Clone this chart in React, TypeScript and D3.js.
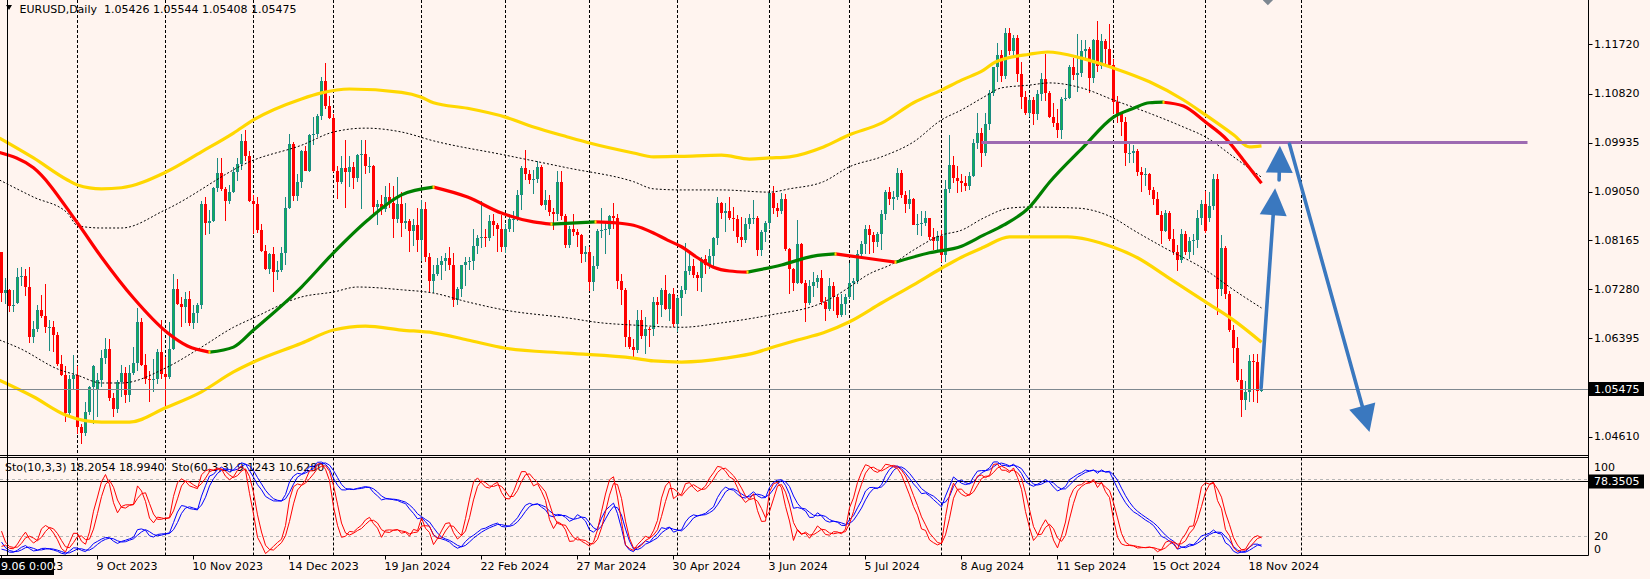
import React from "react";
import * as d3 from "d3";

type Row = [number, number, number, number, number];

// ---- daily candles: [day, open, high, low, close] ----
const sep2023: Row[] = [
  [5,1.0795,1.0796,1.0705,1.0721],[6,1.0721,1.0748,1.0702,1.0726],[7,1.0726,1.0729,1.0686,1.0698],[8,1.0698,1.0726,1.0686,1.0700],
  [11,1.0703,1.0767,1.0701,1.0750],[12,1.0750,1.0769,1.0733,1.0752],[13,1.0752,1.0765,1.0715,1.0732],[14,1.0732,1.0768,1.0631,1.0641],[15,1.0641,1.0671,1.0631,1.0656],
  [18,1.0656,1.0699,1.0651,1.0690],[19,1.0690,1.0718,1.0675,1.0680],[20,1.0680,1.0737,1.0648,1.0660],[21,1.0660,1.0673,1.0616,1.0660],[22,1.0660,1.0670,1.0615,1.0645],
  [25,1.0645,1.0650,1.0589,1.0593],[26,1.0593,1.0608,1.0571,1.0573],[27,1.0573,1.0589,1.0488,1.0503],[28,1.0503,1.0573,1.0496,1.0566],[29,1.0566,1.0609,1.0548,1.0573],
];
const oct2023: Row[] = [
  [2,1.0573,1.0588,1.0466,1.0478],[3,1.0478,1.0484,1.0448,1.0468],[4,1.0468,1.0524,1.0462,1.0505],[5,1.0505,1.0553,1.0500,1.0550],[6,1.0550,1.0590,1.0483,1.0588],
  [9,1.0545,1.0577,1.0496,1.0563],[10,1.0563,1.0618,1.0550,1.0604],[11,1.0604,1.0640,1.0593,1.0620],[12,1.0620,1.0638,1.0525,1.0531],[13,1.0531,1.0540,1.0496,1.0510],
  [16,1.0510,1.0564,1.0503,1.0559],[17,1.0559,1.0590,1.0533,1.0576],[18,1.0576,1.0587,1.0521,1.0536],[19,1.0536,1.0590,1.0523,1.0576],[20,1.0576,1.0623,1.0572,1.0594],
  [23,1.0594,1.0694,1.0579,1.0668],[24,1.0668,1.0675,1.0588,1.0590],[25,1.0590,1.0610,1.0556,1.0565],[26,1.0565,1.0579,1.0524,1.0564],[27,1.0564,1.0601,1.0541,1.0565],
  [30,1.0565,1.0620,1.0557,1.0615],[31,1.0615,1.0673,1.0565,1.0575],
];
const nov2023: Row[] = [
  [1,1.0575,1.0605,1.0517,1.0568],[2,1.0568,1.0669,1.0566,1.0620],[3,1.0620,1.0756,1.0618,1.0729],
  [6,1.0729,1.0747,1.0700,1.0701],[7,1.0701,1.0714,1.0659,1.0696],[8,1.0696,1.0723,1.0667,1.0710],[9,1.0710,1.0724,1.0661,1.0667],[10,1.0667,1.0700,1.0656,1.0685],
  [13,1.0685,1.0703,1.0666,1.0700],[14,1.0700,1.0888,1.0693,1.0883],[15,1.0883,1.0895,1.0827,1.0848],[16,1.0848,1.0872,1.0828,1.0852],[17,1.0852,1.0914,1.0849,1.0911],
  [20,1.0911,1.0965,1.0904,1.0939],[21,1.0939,1.0965,1.0906,1.0910],[22,1.0910,1.0913,1.0852,1.0888],[23,1.0888,1.0917,1.0882,1.0905],[24,1.0905,1.0949,1.0903,1.0940],
  [27,1.0940,1.0965,1.0925,1.0955],[28,1.0955,1.1009,1.0945,1.0996],[29,1.0996,1.1017,1.0961,1.0970],[30,1.0970,1.0978,1.0886,1.0888],
];
const dec2023: Row[] = [
  [1,1.0888,1.0898,1.0828,1.0883],
  [4,1.0883,1.0895,1.0830,1.0836],[5,1.0836,1.0847,1.0796,1.0797],[6,1.0797,1.0808,1.0763,1.0764],[7,1.0764,1.0794,1.0756,1.0792],[8,1.0792,1.0805,1.0723,1.0760],
  [11,1.0760,1.0779,1.0744,1.0762],[12,1.0762,1.0805,1.0760,1.0793],[13,1.0793,1.0895,1.0772,1.0875],[14,1.0875,1.1009,1.0874,1.0991],[15,1.0991,1.0995,1.0888,1.0897],
  [18,1.0897,1.0937,1.0888,1.0923],[19,1.0923,1.0980,1.0912,1.0979],[20,1.0979,1.0988,1.0942,1.0943],[21,1.0943,1.1010,1.0941,1.1008],[22,1.1008,1.1040,1.0990,1.1009],
  [26,1.1009,1.1045,1.1004,1.1042],[27,1.1042,1.1112,1.1034,1.1106],[28,1.1106,1.1139,1.1055,1.1061],[29,1.1061,1.1078,1.1037,1.1038],
];
const jan2024: Row[] = [
  [2,1.1038,1.1046,1.0940,1.0942],[3,1.0942,1.0951,1.0892,1.0922],[4,1.0922,1.0970,1.0918,1.0947],[5,1.0947,1.0998,1.0876,1.0940],
  [8,1.0940,1.0969,1.0914,1.0949],[9,1.0949,1.0958,1.0910,1.0930],[10,1.0930,1.0973,1.0922,1.0971],[11,1.0971,1.0998,1.0874,1.0973],[12,1.0973,1.0999,1.0936,1.0951],
  [15,1.0951,1.0967,1.0939,1.0952],[16,1.0952,1.0954,1.0863,1.0877],[17,1.0877,1.0890,1.0844,1.0883],[18,1.0883,1.0899,1.0862,1.0874],[19,1.0874,1.0915,1.0868,1.0896],
  [22,1.0896,1.0920,1.0876,1.0885],[23,1.0885,1.0915,1.0821,1.0855],[24,1.0855,1.0932,1.0848,1.0883],[25,1.0883,1.0904,1.0822,1.0848],[26,1.0848,1.0885,1.0838,1.0852],
  [29,1.0852,1.0856,1.0795,1.0833],[30,1.0833,1.0855,1.0807,1.0845],[31,1.0845,1.0876,1.0795,1.0818],
];
const feb2024: Row[] = [
  [1,1.0818,1.0889,1.0780,1.0873],[2,1.0873,1.0886,1.0777,1.0786],
  [5,1.0786,1.0793,1.0723,1.0743],[6,1.0743,1.0771,1.0722,1.0756],[7,1.0756,1.0785,1.0752,1.0772],[8,1.0772,1.0788,1.0745,1.0780],[9,1.0780,1.0794,1.0761,1.0785],
  [12,1.0785,1.0805,1.0762,1.0771],[13,1.0771,1.0793,1.0696,1.0708],[14,1.0708,1.0732,1.0700,1.0728],[15,1.0728,1.0772,1.0714,1.0771],[16,1.0771,1.0786,1.0733,1.0778],
  [19,1.0778,1.0787,1.0762,1.0779],[20,1.0779,1.0838,1.0762,1.0807],[21,1.0807,1.0827,1.0791,1.0821],[22,1.0821,1.0888,1.0802,1.0822],[23,1.0822,1.0838,1.0805,1.0821],
  [26,1.0821,1.0862,1.0815,1.0851],[27,1.0851,1.0865,1.0824,1.0845],[28,1.0845,1.0848,1.0796,1.0838],[29,1.0838,1.0862,1.0796,1.0804],
];
const mar2024: Row[] = [
  [1,1.0804,1.0846,1.0794,1.0838],
  [4,1.0838,1.0864,1.0831,1.0855],[5,1.0855,1.0870,1.0832,1.0855],[6,1.0855,1.0908,1.0852,1.0899],[7,1.0899,1.0951,1.0872,1.0948],[8,1.0948,1.0981,1.0926,1.0937],
  [11,1.0937,1.0945,1.0918,1.0926],[12,1.0926,1.0945,1.0900,1.0927],[13,1.0927,1.0960,1.0920,1.0950],[14,1.0950,1.0953,1.0879,1.0881],[15,1.0881,1.0907,1.0872,1.0889],
  [18,1.0889,1.0898,1.0861,1.0868],[19,1.0868,1.0875,1.0835,1.0865],[20,1.0865,1.0942,1.0851,1.0923],[21,1.0923,1.0942,1.0854,1.0860],[22,1.0860,1.0865,1.0802,1.0808],
  [25,1.0808,1.0843,1.0803,1.0837],[26,1.0837,1.0865,1.0825,1.0831],[27,1.0831,1.0838,1.0805,1.0826],[28,1.0826,1.0829,1.0776,1.0792],[29,1.0792,1.0807,1.0777,1.0795],
];
const apr2024: Row[] = [
  [1,1.0795,1.0804,1.0724,1.0741],[2,1.0741,1.0788,1.0725,1.0770],[3,1.0770,1.0837,1.0764,1.0834],[4,1.0834,1.0876,1.0820,1.0836],[5,1.0836,1.0849,1.0791,1.0837],
  [8,1.0837,1.0862,1.0826,1.0860],[9,1.0860,1.0885,1.0838,1.0858],[10,1.0858,1.0865,1.0728,1.0743],[11,1.0743,1.0755,1.0700,1.0726],[12,1.0726,1.0731,1.0623,1.0642],
  [15,1.0642,1.0672,1.0620,1.0624],[16,1.0624,1.0638,1.0601,1.0617],[17,1.0617,1.0690,1.0612,1.0672],[18,1.0672,1.0690,1.0637,1.0644],[19,1.0644,1.0678,1.0610,1.0656],
  [22,1.0656,1.0660,1.0624,1.0655],[23,1.0655,1.0713,1.0644,1.0704],[24,1.0704,1.0714,1.0665,1.0700],[25,1.0700,1.0731,1.0678,1.0727],[26,1.0727,1.0753,1.0691,1.0693],
  [29,1.0693,1.0722,1.0671,1.0719],[30,1.0719,1.0730,1.0660,1.0665],
];
const may2024: Row[] = [
  [1,1.0665,1.0715,1.0650,1.0712],[2,1.0712,1.0733,1.0680,1.0727],[3,1.0727,1.0812,1.0719,1.0761],
  [6,1.0761,1.0791,1.0754,1.0770],[7,1.0770,1.0782,1.0749,1.0754],[8,1.0754,1.0760,1.0724,1.0749],[9,1.0749,1.0786,1.0723,1.0783],[10,1.0783,1.0790,1.0755,1.0771],
  [13,1.0771,1.0801,1.0764,1.0789],[14,1.0789,1.0823,1.0770,1.0820],[15,1.0820,1.0895,1.0808,1.0884],[16,1.0884,1.0887,1.0855,1.0866],[17,1.0866,1.0884,1.0832,1.0869],
  [20,1.0869,1.0895,1.0854,1.0857],[21,1.0857,1.0877,1.0834,1.0855],[22,1.0855,1.0862,1.0812,1.0822],[23,1.0822,1.0859,1.0805,1.0818],[24,1.0818,1.0858,1.0812,1.0847],
  [27,1.0847,1.0864,1.0837,1.0857],[28,1.0857,1.0889,1.0847,1.0858],[29,1.0858,1.0861,1.0789,1.0799],[30,1.0799,1.0835,1.0788,1.0832],[31,1.0832,1.0852,1.0813,1.0848],
];
const jun2024: Row[] = [
  [3,1.0848,1.0902,1.0837,1.0902],[4,1.0902,1.0916,1.0864,1.0876],[5,1.0876,1.0885,1.0859,1.0869],[6,1.0869,1.0902,1.0864,1.0891],[7,1.0891,1.0901,1.0798,1.0801],
  [10,1.0801,1.0803,1.0719,1.0765],[11,1.0765,1.0766,1.0724,1.0740],[12,1.0740,1.0853,1.0737,1.0810],[13,1.0810,1.0812,1.0738,1.0740],[14,1.0740,1.0744,1.0668,1.0703],
  [17,1.0703,1.0745,1.0700,1.0734],[18,1.0734,1.0760,1.0714,1.0741],[19,1.0741,1.0753,1.0730,1.0748],[20,1.0748,1.0762,1.0700,1.0704],[21,1.0704,1.0714,1.0671,1.0693],
  [24,1.0693,1.0748,1.0689,1.0733],[25,1.0733,1.0741,1.0689,1.0714],[26,1.0714,1.0717,1.0676,1.0682],[27,1.0682,1.0719,1.0677,1.0702],[28,1.0702,1.0720,1.0682,1.0713],
];
const jul2024: Row[] = [
  [1,1.0713,1.0776,1.0710,1.0739],[2,1.0739,1.0749,1.0709,1.0742],[3,1.0742,1.0800,1.0737,1.0791],[4,1.0791,1.0816,1.0785,1.0810],[5,1.0810,1.0845,1.0792,1.0838],
  [8,1.0838,1.0845,1.0791,1.0826],[9,1.0826,1.0831,1.0794,1.0814],[10,1.0814,1.0832,1.0805,1.0829],[11,1.0829,1.0872,1.0800,1.0865],[12,1.0865,1.0907,1.0853,1.0905],
  [15,1.0905,1.0914,1.0881,1.0892],[16,1.0892,1.0906,1.0872,1.0896],[17,1.0896,1.0948,1.0890,1.0939],[18,1.0939,1.0944,1.0893,1.0898],[19,1.0898,1.0906,1.0866,1.0883],
  [22,1.0883,1.0907,1.0873,1.0891],[23,1.0891,1.0894,1.0844,1.0845],[24,1.0845,1.0865,1.0826,1.0847],[25,1.0847,1.0869,1.0825,1.0848],[26,1.0848,1.0870,1.0842,1.0857],
  [29,1.0857,1.0858,1.0817,1.0822],[30,1.0822,1.0839,1.0800,1.0815],[31,1.0815,1.0833,1.0800,1.0825],
];
const aug2024: Row[] = [
  [1,1.0825,1.0835,1.0777,1.0790],[2,1.0790,1.0926,1.0778,1.0910],
  [5,1.0910,1.1008,1.0902,1.0953],[6,1.0953,1.0970,1.0920,1.0930],[7,1.0930,1.0951,1.0902,1.0924],[8,1.0924,1.0937,1.0905,1.0920],[9,1.0920,1.0934,1.0906,1.0916],
  [12,1.0916,1.0940,1.0907,1.0934],[13,1.0934,1.1000,1.0931,1.0993],[14,1.0993,1.1047,1.0982,1.1012],[15,1.1012,1.1020,1.0950,1.0975],[16,1.0975,1.1048,1.0970,1.1028],
  [19,1.1028,1.1090,1.1016,1.1084],[20,1.1084,1.1131,1.1078,1.1131],[21,1.1131,1.1174,1.1103,1.1152],[22,1.1152,1.1161,1.1103,1.1114],[23,1.1114,1.1201,1.1109,1.1193],
  [26,1.1193,1.1202,1.1152,1.1160],[27,1.1160,1.1188,1.1150,1.1184],[28,1.1184,1.1188,1.1103,1.1119],[29,1.1119,1.1140,1.1055,1.1076],[30,1.1076,1.1087,1.1044,1.1047],
];
const sep2024: Row[] = [
  [2,1.1047,1.1077,1.1041,1.1071],[3,1.1071,1.1076,1.1026,1.1045],[4,1.1045,1.1090,1.1035,1.1081],[5,1.1081,1.1120,1.1069,1.1110],[6,1.1110,1.1155,1.1070,1.1083],
  [9,1.1083,1.1088,1.1039,1.1040],[10,1.1040,1.1066,1.1022,1.1030],[11,1.1030,1.1055,1.1002,1.1016],[12,1.1016,1.1076,1.1001,1.1073],[13,1.1073,1.1091,1.1069,1.1075],
  [16,1.1075,1.1135,1.1072,1.1130],[17,1.1130,1.1147,1.1107,1.1117],[18,1.1117,1.1190,1.1086,1.1120],[19,1.1120,1.1180,1.1112,1.1160],[20,1.1160,1.1179,1.1141,1.1163],
  [23,1.1163,1.1167,1.1083,1.1111],[24,1.1111,1.1182,1.1102,1.1179],[25,1.1179,1.1214,1.1122,1.1133],[26,1.1133,1.1190,1.1127,1.1178],[27,1.1178,1.1182,1.1135,1.1164],
  [30,1.1164,1.1209,1.1132,1.1135],
];
const oct2024: Row[] = [
  [1,1.1135,1.1146,1.1045,1.1068],[2,1.1068,1.1079,1.1030,1.1046],[3,1.1046,1.1048,1.1006,1.1032],[4,1.1032,1.1040,1.0951,1.0975],
  [7,1.0975,1.0992,1.0956,1.0975],[8,1.0975,1.0990,1.0956,1.0978],[9,1.0978,1.0982,1.0933,1.0941],[10,1.0941,1.0949,1.0905,1.0935],[11,1.0935,1.0948,1.0916,1.0937],
  [14,1.0937,1.0939,1.0898,1.0908],[15,1.0908,1.0914,1.0880,1.0892],[16,1.0892,1.0904,1.0863,1.0863],[17,1.0863,1.0869,1.0810,1.0833],[18,1.0833,1.0871,1.0832,1.0867],
  [21,1.0867,1.0870,1.0815,1.0819],[22,1.0819,1.0838,1.0790,1.0796],[23,1.0796,1.0809,1.0761,1.0781],[24,1.0781,1.0837,1.0775,1.0828],[25,1.0828,1.0834,1.0790,1.0796],
  [28,1.0796,1.0823,1.0782,1.0815],[29,1.0815,1.0829,1.0790,1.0817],[30,1.0817,1.0871,1.0803,1.0857],[31,1.0857,1.0889,1.0845,1.0883],
];
const nov2024: Row[] = [
  [1,1.0883,1.0906,1.0830,1.0834],
  [4,1.0858,1.0905,1.0850,1.0878],[5,1.0878,1.0937,1.0872,1.0928],[6,1.0928,1.0937,1.0682,1.0728],[7,1.0728,1.0826,1.0716,1.0803],[8,1.0803,1.0807,1.0710,1.0719],
  [11,1.0719,1.0725,1.0650,1.0654],[12,1.0654,1.0663,1.0595,1.0622],[13,1.0622,1.0641,1.0560,1.0564],[14,1.0564,1.0584,1.0497,1.0528],[15,1.0528,1.0561,1.0509,1.0541],
  [18,1.0541,1.0608,1.0523,1.0598],[19,1.0598,1.0610,1.0524,1.0596],[20,1.0596,1.0610,1.0522,1.0543],[21,1.05426,1.05544,1.05408,1.05475],
];

// bars before the first visible one (high, low, close), needed by the stochastics
const preHistory: [number, number, number][] = [
  [1.0710,1.0665,1.0697],[1.0786,1.0690,1.0780],[1.0790,1.0745,1.0750],[1.0780,1.0735,1.0752],[1.0823,1.0750,1.0793],[1.0865,1.0775,1.0833],
  [1.0950,1.0795,1.0945],[1.0970,1.0915,1.0940],[1.0940,1.0910,1.0922],[1.0935,1.0900,1.0915],[1.0985,1.0905,1.0985],[1.1012,1.0940,1.0955],
  [1.0965,1.0845,1.0895],[1.0925,1.0880,1.0905],[1.0975,1.0895,1.0960],[1.0975,1.0900,1.0913],[1.0935,1.0835,1.0866],[1.0935,1.0855,1.0910],
  [1.0935,1.0885,1.0913],[1.0910,1.0870,1.0880],[1.0905,1.0835,1.0853],[1.0900,1.0835,1.0887],[1.0975,1.0880,1.0968],[1.1000,1.0940,1.0971],
  [1.1030,1.0960,1.1008],[1.1135,1.0995,1.1129],[1.1225,1.1125,1.1220],[1.1245,1.1205,1.1228],[1.1250,1.1210,1.1238],[1.1276,1.1220,1.1227],
  [1.1245,1.1180,1.1200],[1.1220,1.1125,1.1130],[1.1150,1.1100,1.1124],[1.1130,1.1045,1.1065],[1.1075,1.1020,1.1055],[1.1090,1.1030,1.1085],
  [1.1150,1.0965,1.0976],[1.1045,1.0945,1.1015],[1.1030,1.0985,1.0997],[1.1005,1.0960,1.0984],[1.1005,1.0930,1.0936],[1.0965,1.0910,1.0944],
  [1.1040,1.0940,1.1006],[1.1020,1.0960,1.0999],[1.0995,1.0915,1.0955],[1.1000,1.0945,1.0975],[1.1065,1.0965,1.0982],[1.1005,1.0935,1.0949],
  [1.0955,1.0880,1.0906],[1.0935,1.0880,1.0904],[1.0935,1.0874,1.0876],[1.0895,1.0855,1.0872],[1.0895,1.0855,1.0871],[1.0930,1.0870,1.0894],
  [1.0905,1.0830,1.0845],[1.0870,1.0800,1.0862],[1.0865,1.0800,1.0807],[1.0850,1.0766,1.0797],[1.0830,1.0785,1.0817],[1.0890,1.0810,1.0879],
  [1.0945,1.0865,1.0923],[1.0900,1.0835,1.0842],[1.0882,1.0770,1.0775],[1.0810,1.0780,1.0795],
];

// ---- indicator curves: [bar index, price] ----
const upperBand: [number, number][] = [
  [-0.5,1.1002],[8,1.0966],[16.5,1.0926],[19,1.0917],[25,1.0910],[30,1.0912],[41,1.0940],[50,1.0977],[58,1.1011],[63,1.1035],[75,1.1073],[80,1.1084],
  [87,1.1091],[100,1.1085],[105,1.1076],[108,1.1066],[116.5,1.1056],[126,1.1040],[133,1.1022],[141.5,1.1004],[147,1.0993],[158,1.0975],[163,1.0968],
  [170,1.0969],[180,1.0971],[187,1.0964],[192,1.0966],[197,1.0968],[205.5,1.0986],[212,1.1008],[220,1.1029],[228,1.1066],[235,1.1089],[240,1.1107],
  [245.5,1.1125],[248.5,1.1140],[257,1.1154],[261.5,1.1158],[270,1.1147],[278,1.1129],[287,1.1104],[295.5,1.1071],[301,1.1044],[308,1.1008],[312,1.0986],[315,1.0988],
];
const upperDots: [number, number][] = [
  [-0.5,1.0926],[8,1.0895],[16.5,1.0866],[19,1.0843],[25,1.0839],[30,1.0839],[41,1.0872],[63,1.0962],[75,1.0989],[83,1.1013],[91,1.1020],[100,1.1013],
  [108,1.0997],[126,1.0971],[141.5,1.0948],[158,1.0923],[163,1.0910],[170,1.0908],[180,1.0908],[192,1.0904],[197,1.0910],[205.5,1.0923],[212,1.0950],
  [220,1.0968],[228,1.0995],[235,1.1035],[240,1.1053],[245.5,1.1076],[250,1.1093],[257,1.1098],[262,1.1102],[270,1.1093],[278,1.1071],[287,1.1047],
  [295.5,1.1022],[301,1.1004],[308,1.0968],[315,1.0931],
];
const lowerDots: [number, number][] = [
  [-0.5,1.0636],[4.5,1.0621],[14.5,1.0582],[19,1.0572],[25,1.0558],[30,1.0558],[41.5,1.0587],[50,1.0623],[58,1.0659],[63,1.0676],[75,1.0714],[83,1.0723],
  [89,1.0732],[100,1.0727],[108,1.0721],[116.5,1.0705],[126,1.0690],[141.5,1.0676],[150,1.0667],[158,1.0663],[170,1.0659],[180,1.0667],[192,1.0681],
  [205,1.0703],[209,1.0718],[212,1.0732],[216.5,1.0754],[223,1.0775],[228,1.0799],[235,1.0826],[240,1.0835],[245.5,1.0857],[252,1.0875],[257,1.0877],
  [269,1.0875],[278,1.0857],[283,1.0835],[290.5,1.0804],[301,1.0763],[308,1.0727],[315,1.0694],
];
const lowerBand: [number, number][] = [
  [-0.5,1.0563],[8,1.0533],[16,1.0500],[25,1.0487],[32,1.0487],[41,1.0513],[50,1.0542],[58,1.0578],[63,1.0596],[75,1.0630],[83,1.0654],[91,1.0661],
  [100,1.0654],[108,1.0649],[116.5,1.0636],[126,1.0621],[141.5,1.0612],[158,1.0603],[163,1.0598],[170,1.0596],[181,1.0603],[189,1.0614],[192,1.0621],
  [199,1.0636],[205.5,1.0649],[212,1.0669],[220,1.0703],[228,1.0736],[235,1.0766],[240,1.0786],[245.5,1.0804],[252,1.0823],[257,1.0823],[266.5,1.0823],
  [278,1.0804],[284,1.0785],[291.5,1.0750],[301,1.0705],[308,1.0672],[315,1.0632],
];
const midLine: [number, number][] = [
  [-0.5,1.0976],[8,1.0948],[19,1.0848],[25,1.0786],[33,1.0712],[41.5,1.0649],[46.5,1.0625],[52,1.0614],[58,1.0623],[63,1.0654],[75,1.0732],[83,1.0794],
  [91.5,1.0853],[100,1.0899],[108,1.0913],[116.5,1.0895],[125,1.0866],[133,1.0850],[137.5,1.0846],[148.5,1.0850],[154,1.0848],[158,1.0844],[163,1.0830],
  [166.5,1.0817],[170,1.0805],[174,1.0785],[178,1.0768],[182,1.0761],[186.5,1.0759],[195,1.0772],[203,1.0788],[208.5,1.0792],[215.5,1.0785],[223.5,1.0777],
  [232,1.0794],[240,1.0806],[245.5,1.0826],[250.5,1.0844],[257,1.0877],[262,1.0922],[270.5,1.0986],[278,1.1040],[283,1.1056],[287,1.1066],[290.5,1.1067],
  [295.5,1.1060],[301,1.1031],[306.5,1.0998],[310.5,1.0962],[315,1.0920],
];

// ---- axes / labels ----
const dateLabels: [string, string][] = [
  ["2023-09-05","5 Sep 2023"],["2023-10-09","9 Oct 2023"],["2023-11-10","10 Nov 2023"],["2023-12-14","14 Dec 2023"],["2024-01-19","19 Jan 2024"],
  ["2024-02-22","22 Feb 2024"],["2024-03-27","27 Mar 2024"],["2024-04-30","30 Apr 2024"],["2024-06-03","3 Jun 2024"],["2024-07-05","5 Jul 2024"],
  ["2024-08-08","8 Aug 2024"],["2024-09-11","11 Sep 2024"],["2024-10-15","15 Oct 2024"],["2024-11-18","18 Nov 2024"],
];
const priceTicks = [1.1172, 1.1082, 1.09935, 1.0905, 1.08165, 1.0728, 1.06395, 1.0461];
const futureGridBar = 325;
const scrollLabel = "9.06 0:00";
const symbolText = "EURUSD,Daily";
const lastQuote = [1.05426, 1.05544, 1.05408, 1.05475];
const stochText = "Sto(10,3,3) 18.2054 18.9940  Sto(60,3,3) 9.1243 10.6280";
const stochLevels = [20, 80];
const stochLine = 78.3505;
const resistance = { price: 1.0994, fromBar: 245, toBar: 381.5 };
const arrowDefs: { from: [number, number]; to: [number, number] }[] = [
  { from: [314.9, 1.0549], to: [318.4, 1.0911] },
  { from: [319.4, 1.0926], to: [319.6, 1.0988] },
  { from: [322, 1.0991], to: [342, 1.0469] },
];
const vLineBar = 1.5;
const diamond = { bar: 316.6, price: 1.1252 };

const monthBlocks: [number, number, Row[]][] = [
  [2023, 9, sep2023], [2023, 10, oct2023], [2023, 11, nov2023], [2023, 12, dec2023],
  [2024, 1, jan2024], [2024, 2, feb2024], [2024, 3, mar2024], [2024, 4, apr2024], [2024, 5, may2024],
  [2024, 6, jun2024], [2024, 7, jul2024], [2024, 8, aug2024], [2024, 9, sep2024], [2024, 10, oct2024], [2024, 11, nov2024],
];
const pad = (n: number) => String(n).padStart(2, "0");
const bars = monthBlocks.flatMap(([yr, mo, rows]) =>
  rows.map((r) => ({ date: `${yr}-${pad(mo)}-${pad(r[0])}`, month: `${yr}-${mo}`, o: r[1], h: r[2], l: r[3], c: r[4] }))
);

function stochastic(hi: number[], lo: number[], cl: number[], k: number, d: number, slow: number) {
  const n = cl.length;
  const main: number[] = new Array(n).fill(NaN);
  for (let i = k + slow - 2; i < n; i++) {
    let num = 0, den = 0;
    for (let j = 0; j < slow; j++) {
      const t = i - j;
      const hh = d3.max(hi.slice(t - k + 1, t + 1)) as number;
      const ll = d3.min(lo.slice(t - k + 1, t + 1)) as number;
      num += cl[t] - ll;
      den += hh - ll;
    }
    main[i] = den === 0 ? 100 : (num / den) * 100;
  }
  const sig = main.map((_, i) => (i >= d - 1 ? (d3.mean(main.slice(i - d + 1, i + 1)) as number) : NaN));
  return { main, sig };
}

const FONT = "'DejaVu Sans', Tahoma, sans-serif";
const W = 1650, H = 579;
const AXIS_X = 1588.5, MAIN_BOTTOM = 455.5, SUB_TOP = 457.5, SUB_BOTTOM = 555.5;
const BG = "#FFF4EF";
const BULL_EDGE = "#1C8C82", BULL_FILL = "#10B254", BEAR = "#FF0000";

export default function App() {
  const N = bars.length;
  const xs = d3.scaleLinear().domain([0, N - 1]).range([1.5, 1.5 + 4 * (N - 1)]);
  const yp = d3.scaleLinear().domain([1.0461, 1.1172]).range([436.5, 44.3]);
  const ys = d3.scaleLinear().domain([0, 100]).range([555, 460]);

  const P = preHistory.length;
  const hi = [...preHistory.map((p) => p[0]), ...bars.map((b) => b.h)];
  const lo = [...preHistory.map((p) => p[1]), ...bars.map((b) => b.l)];
  const cl = [...preHistory.map((p) => p[2]), ...bars.map((b) => b.c)];
  const fast = stochastic(hi, lo, cl, 10, 3, 3);
  const slow = stochastic(hi, lo, cl, 60, 3, 3);
  const vis = (arr: number[]) => arr.slice(P);

  const curve = d3.line<[number, number]>().x((d) => xs(d[0])).y((d) => yp(d[1])).curve(d3.curveMonotoneX);
  const sline = d3.line<number>().defined((v) => !isNaN(v)).x((_, i) => xs(i)).y((v) => ys(v));

  // colour runs of the middle line
  const runs: { up: boolean; pts: [number, number][] }[] = [];
  for (let k = 1; k < midLine.length; k++) {
    const up = midLine[k][1] > midLine[k - 1][1];
    if (!runs.length || runs[runs.length - 1].up !== up) runs.push({ up, pts: [midLine[k - 1]] });
    runs[runs.length - 1].pts.push(midLine[k]);
  }

  const gridBars: number[] = [];
  bars.forEach((b, i) => { if (i > 0 && b.month !== bars[i - 1].month) gridBars.push(i); });
  gridBars.push(futureGridBar);

  const idxOf = (date: string) => bars.findIndex((b) => b.date === date);

  const arrows = arrowDefs.map(({ from, to }) => {
    const x1 = xs(from[0]), y1 = yp(from[1]), x2 = xs(to[0]), y2 = yp(to[1]);
    const len = Math.hypot(x2 - x1, y2 - y1);
    const ux = (x2 - x1) / len, uy = (y2 - y1) / len;
    const bx = x2 - ux * 27, by = y2 - uy * 27;
    const nx = -uy, ny = ux;
    return {
      x1, y1, x2: bx + ux * 4, y2: by + uy * 4,
      head: `${x2},${y2} ${bx + nx * 13.5},${by + ny * 13.5} ${bx - nx * 13.5},${by - ny * 13.5}`,
    };
  });

  const lastY = Math.round(yp(lastQuote[3])) + 0.5;
  const fmt = (v: number) => v.toFixed(5);

  return (
    <svg width={W} height={H} style={{ position: "fixed", left: 0, top: 0, display: "block" }} fontFamily={FONT}>
      <defs>
        <clipPath id="main"><rect x={0} y={0} width={AXIS_X} height={MAIN_BOTTOM} /></clipPath>
        <clipPath id="sub"><rect x={0} y={SUB_TOP + 0.5} width={AXIS_X} height={SUB_BOTTOM - SUB_TOP - 1} /></clipPath>
      </defs>
      <rect x={0} y={0} width={W} height={H} fill={BG} />

      {/* main panel */}
      <g clipPath="url(#main)">
        {gridBars.map((i) => (
          <line key={"g" + i} x1={xs(i)} x2={xs(i)} y1={0} y2={MAIN_BOTTOM} stroke="#000" strokeWidth={1} strokeDasharray="3,2" />
        ))}
        {bars.map((b, i) => {
          const cx = xs(i);
          const bull = b.c >= b.o;
          const top = Math.round(yp(Math.max(b.o, b.c)));
          const bot = Math.round(yp(Math.min(b.o, b.c)));
          const h = Math.max(1, bot - top);
          const wt = Math.round(yp(b.h));
          const wb = Math.round(yp(b.l));
          const col = bull ? BULL_EDGE : BEAR;
          return (
            <g key={"c" + i}>
              <rect x={cx - 0.5} y={wt} width={1} height={Math.max(1, wb - wt)} fill={col} />
              <rect x={cx - 1.5} y={top} width={3} height={h} fill={col} />
              {bull && h > 2 && <rect x={cx - 0.5} y={top + 1} width={1} height={h - 2} fill={BULL_FILL} />}
            </g>
          );
        })}
        <path d={curve(upperDots) || ""} fill="none" stroke="#000" strokeWidth={1} strokeDasharray="2,2" />
        <path d={curve(lowerDots) || ""} fill="none" stroke="#000" strokeWidth={1} strokeDasharray="2,2" />
        <path d={curve(upperBand) || ""} fill="none" stroke="#FFD700" strokeWidth={3.2} />
        <path d={curve(lowerBand) || ""} fill="none" stroke="#FFD700" strokeWidth={3.2} />
        {runs.map((r, k) => (
          <path key={"m" + k} d={curve(r.pts) || ""} fill="none" stroke={r.up ? "#008000" : "#FF0000"} strokeWidth={3.2} />
        ))}
        {runs.slice(1).map((r, k) => (
          <rect key={"t" + k} x={xs(r.pts[0][0]) - 1} y={yp(r.pts[0][1]) - 1.5} width={2} height={3} fill="#FFD700" />
        ))}
        <line x1={0} x2={AXIS_X} y1={lastY} y2={lastY} stroke="#7F8890" strokeWidth={1} />
        <line x1={xs(resistance.fromBar)} x2={xs(resistance.toBar)} y1={yp(resistance.price)} y2={yp(resistance.price)} stroke="#9D6AB2" strokeWidth={3} />
        {arrows.map((a, k) => (
          <g key={"a" + k}>
            <line x1={a.x1} y1={a.y1} x2={a.x2} y2={a.y2} stroke="#3A78BF" strokeWidth={3.6} strokeLinecap="round" />
            <polygon points={a.head} fill="#3A78BF" />
          </g>
        ))}
        <polygon
          points={`${xs(diamond.bar) - 5},${yp(diamond.price)} ${xs(diamond.bar)},${yp(diamond.price) + 5} ${xs(diamond.bar) + 5},${yp(diamond.price)} ${xs(diamond.bar)},${yp(diamond.price) - 5}`}
          fill="#7D8791"
        />
        <polygon points="6,5 12,5 9,10" fill="#000" />
        <text x={19.5} y={9} fontSize={11} dominantBaseline="central" fill="#000" style={{ whiteSpace: "pre" }}>
          {`${symbolText}  ${lastQuote.map(fmt).join(" ")}`}
        </text>
      </g>

      {/* stochastic panel */}
      <g clipPath="url(#sub)">
        {gridBars.map((i) => (
          <line key={"sg" + i} x1={xs(i)} x2={xs(i)} y1={SUB_TOP} y2={SUB_BOTTOM} stroke="#000" strokeWidth={1} strokeDasharray="3,2" />
        ))}
        {stochLevels.map((v) => (
          <line key={"lv" + v} x1={0} x2={AXIS_X} y1={Math.round(ys(v)) + 0.5} y2={Math.round(ys(v)) + 0.5} stroke="#B8B8B8" strokeWidth={1} strokeDasharray="3,3" />
        ))}
        <line x1={0} x2={AXIS_X} y1={Math.round(ys(stochLine)) + 0.5} y2={Math.round(ys(stochLine)) + 0.5} stroke="#000" strokeWidth={1} />
        <text x={5} y={467} fontSize={11} dominantBaseline="central" fill="#000" style={{ whiteSpace: "pre" }}>{stochText}</text>
        <path d={sline(vis(slow.main)) || ""} fill="none" stroke="#0000FF" strokeWidth={1} />
        <path d={sline(vis(slow.sig)) || ""} fill="none" stroke="#0000FF" strokeWidth={1} />
        <path d={sline(vis(fast.main)) || ""} fill="none" stroke="#FF0000" strokeWidth={1} />
        <path d={sline(vis(fast.sig)) || ""} fill="none" stroke="#FF0000" strokeWidth={1} />
      </g>

      {/* vertical line object */}
      <line x1={Math.floor(xs(vLineBar)) + 0.5} x2={Math.floor(xs(vLineBar)) + 0.5} y1={0} y2={SUB_BOTTOM} stroke="#000" strokeWidth={1} />

      {/* frames */}
      <line x1={0} x2={AXIS_X} y1={MAIN_BOTTOM} y2={MAIN_BOTTOM} stroke="#000" />
      <line x1={0} x2={AXIS_X} y1={SUB_TOP} y2={SUB_TOP} stroke="#000" />
      <line x1={0} x2={AXIS_X} y1={SUB_BOTTOM} y2={SUB_BOTTOM} stroke="#000" />
      <line x1={AXIS_X} x2={AXIS_X} y1={0} y2={SUB_BOTTOM} stroke="#000" />

      {/* price axis */}
      {priceTicks.map((v) => (
        <g key={"p" + v}>
          <line x1={AXIS_X} x2={AXIS_X + 4} y1={Math.round(yp(v)) + 0.5} y2={Math.round(yp(v)) + 0.5} stroke="#000" />
          <text x={1594} y={yp(v)} fontSize={11} dominantBaseline="central" fill="#000">{fmt(v)}</text>
        </g>
      ))}
      <rect x={1589} y={lastY - 7.5} width={55} height={14} fill="#000" />
      <text x={1594} y={lastY} fontSize={11} dominantBaseline="central" fill="#fff">{fmt(lastQuote[3])}</text>

      {/* stochastic axis */}
      <text x={1594} y={467} fontSize={11} dominantBaseline="central" fill="#000">100</text>
      <text x={1594} y={ys(20)} fontSize={11} dominantBaseline="central" fill="#000">20</text>
      <text x={1594} y={549} fontSize={11} dominantBaseline="central" fill="#000">0</text>
      <rect x={1589} y={Math.round(ys(stochLine)) - 6.5} width={55} height={14} fill="#000" />
      <text x={1594} y={Math.round(ys(stochLine)) + 0.5} fontSize={11} dominantBaseline="central" fill="#fff">{stochLine.toFixed(4)}</text>

      {/* time axis */}
      {dateLabels.map(([d, t]) => {
        const i = idxOf(d);
        const x = xs(i);
        return (
          <g key={d}>
            <line x1={x} x2={x} y1={SUB_BOTTOM} y2={SUB_BOTTOM + 4} stroke="#000" />
            <text x={x - 1} y={566} fontSize={11} dominantBaseline="central" fill="#000">{t}</text>
          </g>
        );
      })}
      <rect x={0} y={558} width={54} height={17} fill="#000" />
      <text x={1} y={566.5} fontSize={11} dominantBaseline="central" fill="#fff">{scrollLabel}</text>
    </svg>
  );
}
